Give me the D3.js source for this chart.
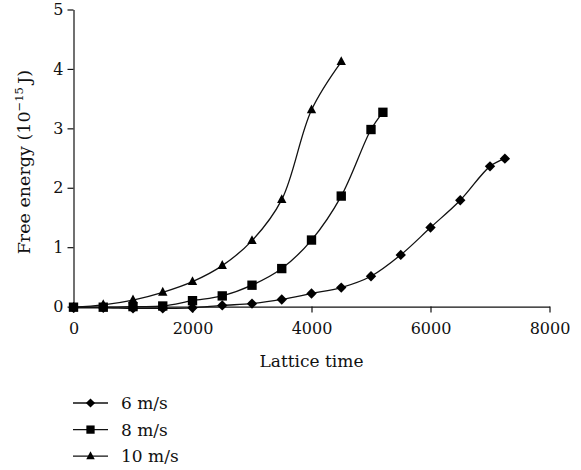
<!DOCTYPE html>
<html>
<head>
<meta charset="utf-8">
<script src="https://cdn.jsdelivr.net/npm/d3@7"></script>
<style>
  body { margin: 0; background: #fff; }
  .axis path, .axis line { stroke: #111; stroke-width: 1.2; }
</style>
</head>
<body>
<div id="chart"></div>
<script>
// Lattice time sampled for each wind speed
const time6 = [0, 500, 1000, 1500, 2000, 2500, 3000, 3500, 4000, 4500, 5000, 5500, 6000, 6500, 7000, 7250];
const energy6 = [-0.02, -0.02, -0.03, -0.03, -0.02, 0.02, 0.05, 0.12, 0.22, 0.32, 0.51, 0.87, 1.33, 1.79, 2.36, 2.49];

const time8 = [0, 500, 1000, 1500, 2000, 2500, 3000, 3500, 4000, 4500, 5000, 5200];
const energy8 = [-0.01, -0.01, 0, 0.01, 0.1, 0.18, 0.36, 0.64, 1.12, 1.86, 2.98, 3.27];

const time10 = [0, 500, 1000, 1500, 2000, 2500, 3000, 3500, 4000, 4500];
const energy10 = [-0.01, 0.03, 0.11, 0.24, 0.42, 0.69, 1.11, 1.8, 3.31, 4.12];

const xTicks = [0, 2000, 4000, 6000, 8000];
const yTicks = [0, 1, 2, 3, 4, 5];
const seriesNames = ['6 m/s', '8 m/s', '10 m/s'];

const FONT = 'DejaVu Serif';
const W = 581, H = 470;
const margin = { top: 9.5, right: 31.5, bottom: 163.4, left: 73.5 };
const width = W - margin.left - margin.right;
const height = H - margin.top - margin.bottom;

function serif(sel, size) {
    return sel.attr('font-family', FONT)
        .attr('font-size', size)
        .attr('fill', '#111');
}

// marker shapes drawn as plain paths, centred on 0,0
function markerPath(shape, r) {
    if (shape === 'diamond') {
        return `M0,${-r}L${r},0L0,${r}L${-r},0Z`;
    } else if (shape === 'square') {
        const s = r * 0.9;
        return `M${-s},${-s}H${s}V${s}H${-s}Z`;
    }
    // triangle
    return `M0,${-r}L${r * 0.85},${r * 0.6}L${-r * 0.85},${r * 0.6}Z`;
}

const svg = d3.select('#chart').append('svg')
    .attr('width', W)
    .attr('height', H);

const g = svg.append('g')
    .attr('transform', `translate(${margin.left},${margin.top})`);

const x = d3.scaleLinear().domain([0, 8000]).range([0, width]);
const y = d3.scaleLinear().domain([0, 5]).range([height, 0]);

const xAxis = g.append('g')
    .attr('class', 'axis')
    .attr('transform', `translate(0,${height})`)
    .call(d3.axisBottom(x).tickValues(xTicks).tickSize(6).tickSizeOuter(0).tickPadding(10).tickFormat(d3.format('d')));

const yAxis = g.append('g')
    .attr('class', 'axis')
    .call(d3.axisLeft(y).tickValues(yTicks).tickSize(6).tickSizeOuter(0).tickPadding(4).tickFormat(d3.format('d')));

[xAxis, yAxis].forEach(a => {
    a.attr('font-family', FONT).attr('font-size', 16);
    a.selectAll('text').attr('fill', '#111');
    a.select('.domain').attr('fill', 'none');
});

// axis titles
serif(svg.append('text'), 17)
    .attr('x', margin.left + x(4000))
    .attr('y', 367)
    .attr('text-anchor', 'middle')
    .text('Lattice time');

const yTitle = serif(svg.append('text'), 17.5)
    .attr('transform', `translate(30,${margin.top + height / 2 + 4}) rotate(-90)`)
    .attr('text-anchor', 'middle');
yTitle.append('tspan').text('Free energy (10');
yTitle.append('tspan').attr('dy', -7).attr('font-size', 11.5).text('\u221215');
yTitle.append('tspan').attr('dy', 7).text('\u2009J)');

const series = [
    { name: seriesNames[2], shape: 'triangle', xs: time10, ys: energy10 },
    { name: seriesNames[0], shape: 'diamond', xs: time6, ys: energy6 },
    { name: seriesNames[1], shape: 'square', xs: time8, ys: energy8 }
];

const line = d3.line()
    .x(d => x(d[0]))
    .y(d => y(d[1]))
    .curve(d3.curveCatmullRom.alpha(0.5));

series.forEach(s => {
    const pts = s.xs.map((t, i) => [t, s.ys[i]]);
    g.append('path')
        .datum(pts)
        .attr('fill', 'none')
        .attr('stroke', '#111')
        .attr('stroke-width', 1.3)
        .attr('d', line);
    g.selectAll(null)
        .data(pts)
        .enter()
        .append('path')
        .attr('transform', d => `translate(${x(d[0])},${y(d[1])})`)
        .attr('d', markerPath(s.shape, s.shape === 'triangle' ? 5.5 : 5.2))
        .attr('fill', '#000');
});

// legend
const legendRows = [
    { name: seriesNames[0], shape: 'diamond' },
    { name: seriesNames[1], shape: 'square' },
    { name: seriesNames[2], shape: 'triangle' }
];
const legend = svg.append('g').attr('transform', 'translate(73,403)');
const item = legend.selectAll('.legend-item')
    .data(legendRows)
    .enter()
    .append('g')
    .attr('class', 'legend-item')
    .attr('transform', (d, i) => `translate(0,${i * 26.6})`);
item.append('line')
    .attr('x1', 0).attr('x2', 35)
    .attr('stroke', '#111').attr('stroke-width', 1.3);
item.append('path')
    .attr('transform', 'translate(17.5,0)')
    .attr('d', d => markerPath(d.shape, d.shape === 'triangle' ? 5 : 4.6))
    .attr('fill', '#000');
serif(item.append('text'), 17)
    .attr('x', 48)
    .attr('dy', '0.35em')
    .text(d => d.name);
</script>
</body>
</html>
